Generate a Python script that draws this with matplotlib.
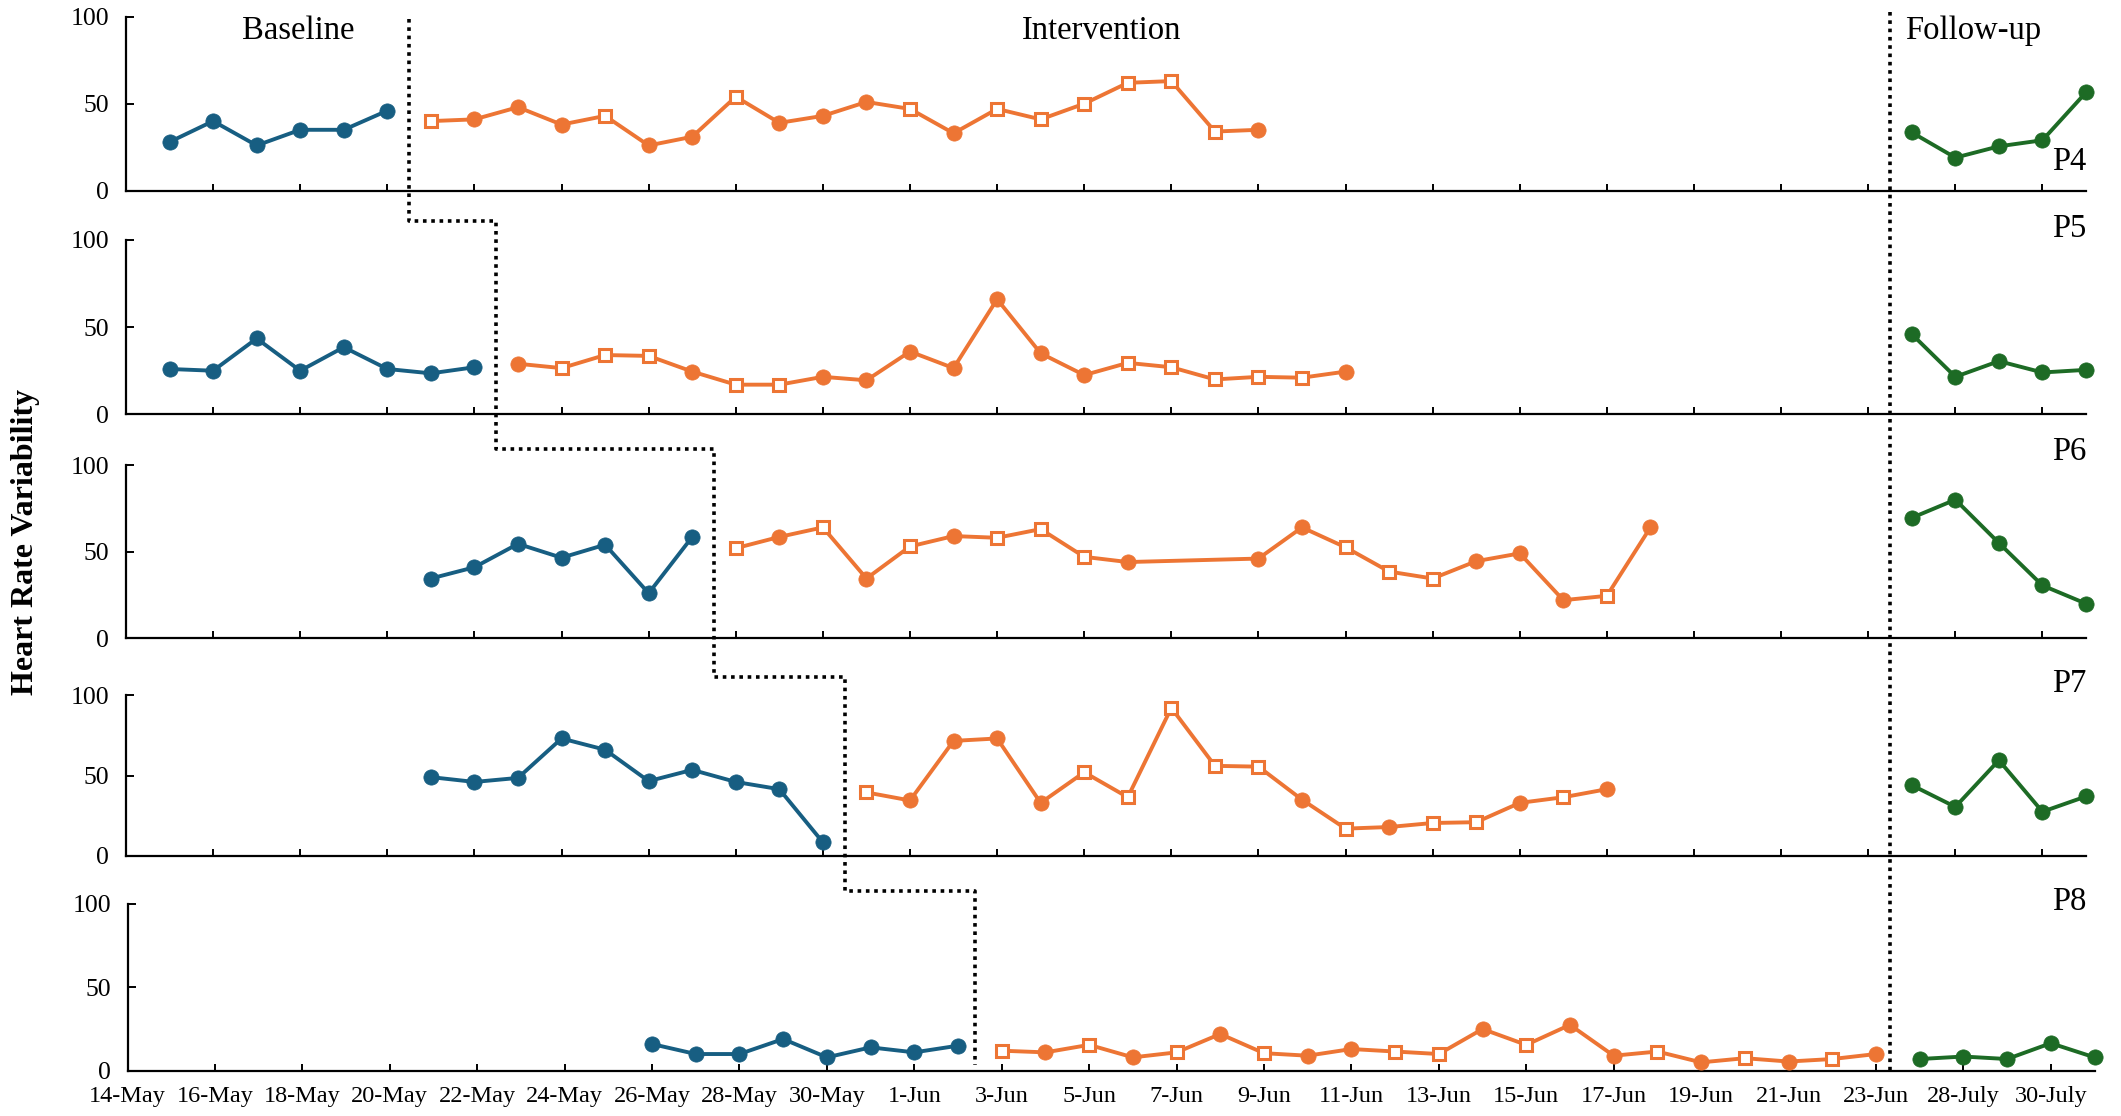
import numpy as np
import pandas as pd
import matplotlib
matplotlib.use("Agg")
import matplotlib.pyplot as plt
from matplotlib.lines import Line2D
from matplotlib.transforms import blended_transform_factory

plt.rcParams['font.family'] = ['Liberation Serif', 'DejaVu Serif']

# ---------------------------------------------------------------------------
# Session calendar: daily sessions 14 May - 23 June, follow-up 27-31 July
# ---------------------------------------------------------------------------
study_days = pd.date_range("2021-05-14", "2021-06-23", freq="D")
followup_days = pd.date_range("2021-07-27", "2021-07-31", freq="D")
date_labels = ([f"{d.day}-{d.strftime('%b')}" for d in study_days] +
               [f"{d.day}-{d.strftime('%B')}" for d in followup_days])

participants = ["P4", "P5", "P6", "P7", "P8"]

# Heart rate variability per participant and phase
# session type: 'c' = filled circle session, 's' = open square session, '-' = no session
p4_baseline_start = "15-May"
p4_baseline = [28, 40, 26, 35, 35, 46]
p4_intervention_start = "21-May"
p4_intervention = [40, 41, 48, 38, 43, 26, 31, 54, 39, 43, 51, 47, 33, 47, 41,
                   50, 62, 63, 34, 35]
p4_session_type = "scccsccscccscssssssc"
p4_followup = [33.5, 19, 25.5, 29, 56.5]

p5_baseline_start = "15-May"
p5_baseline = [26, 25, 43.5, 25, 38.5, 26, 23.5, 27]
p5_intervention_start = "23-May"
p5_intervention = [29, 26.5, 34, 33.5, 24.5, 17, 17, 21.5, 19.5, 36, 26.5, 66,
                   35, 22.5, 29.5, 27, 20, 21.5, 21, 24.5]
p5_session_type = "csssc" "ss" "ccccccc" "sssss" "c"
p5_followup = [46, 21.5, 30.5, 24, 25.5]

p6_baseline_start = "21-May"
p6_baseline = [34.5, 41, 54.5, 46.5, 54, 26, 58.5]
p6_intervention_start = "28-May"
p6_intervention = [52, 58.5, 64, 34.5, 53, 59, 58, 63, 47, 44, np.nan, np.nan,
                   46, 64, 52.5, 38.5, 34.5, 44.5, 49, 22, 24.5, 64]
p6_session_type = "scscscsssc--ccssscccsc"
p6_followup = [69.5, 80, 55, 30.5, 20]

p7_baseline_start = "21-May"
p7_baseline = [49, 46, 48.5, 73, 66, 46.5, 53.5, 46, 41.5, 8.5]
p7_intervention_start = "31-May"
p7_intervention = [39.5, 34.5, 71.5, 73, 33, 52, 36.5, 92, 56, 55.5, 35, 17,
                   18, 20.5, 21, 33, 36.5, 41.5]
p7_session_type = "scccc" "sssss" "cscsscsc"
p7_followup = [44, 30.5, 59.5, 27.5, 37]

p8_baseline_start = "26-May"
p8_baseline = [16, 10, 10, 19, 8, 14, 11, 15]
p8_intervention_start = "3-Jun"
p8_intervention = [12, 11, 15.5, 8, 11, 22, 10.5, 9, 13, 11.5, 10, 25, 15.5,
                   27.5, 9, 11.5, 5, 7.5, 5.5, 7, 10]
p8_session_type = "scscscsccsscsccscscsc"
p8_followup = [7, 8.5, 7, 16.5, 8]

followup_start = "27-July"

series = {
    "P4": (p4_baseline_start, p4_baseline, p4_intervention_start, p4_intervention, p4_session_type, p4_followup),
    "P5": (p5_baseline_start, p5_baseline, p5_intervention_start, p5_intervention, p5_session_type, p5_followup),
    "P6": (p6_baseline_start, p6_baseline, p6_intervention_start, p6_intervention, p6_session_type, p6_followup),
    "P7": (p7_baseline_start, p7_baseline, p7_intervention_start, p7_intervention, p7_session_type, p7_followup),
    "P8": (p8_baseline_start, p8_baseline, p8_intervention_start, p8_intervention, p8_session_type, p8_followup),
}

BLUE = "#175E82"
ORANGE = "#ED7534"
GREEN = "#1D6B25"

LW = 2.8
MS_CIRCLE = 11
MS_SQUARE = 9.2

# ---------------------------------------------------------------------------
# Figure layout
# ---------------------------------------------------------------------------
W, H = 2121, 1116
fig = plt.figure(figsize=(W / 100, H / 100), dpi=100)

# panel rectangles in pixels: (left, right, top, bottom)
panel_px = [
    (126, 2086, 16.7, 190.7),
    (126, 2086, 240.0, 414.3),
    (126, 2086, 465.0, 638.3),
    (126, 2086, 695.0, 856.0),
    (127.5, 2094.5, 904.0, 1070.7),
]

def px_rect(l, r, t, b):
    return [l / W, 1 - b / H, (r - l) / W, (b - t) / H]

n_pos = len(date_labels)
axes = []
for i, name in enumerate(participants):
    ax = fig.add_axes(px_rect(*panel_px[i]))
    axes.append(ax)
    b_start, b_vals, i_start, i_vals, i_type, f_vals = series[name]

    # baseline
    bx = np.arange(len(b_vals)) + date_labels.index(b_start)
    ax.plot(bx, b_vals, color=BLUE, lw=LW, marker="o", ms=MS_CIRCLE, mew=0.5,
            mec=BLUE, mfc=BLUE, clip_on=False, zorder=3)

    # intervention (missing sessions are skipped, line stays connected)
    ix = np.arange(len(i_vals)) + date_labels.index(i_start)
    iv = np.asarray(i_vals, dtype=float)
    types = np.array(list(i_type))
    ok = ~np.isnan(iv)
    ax.plot(ix[ok], iv[ok], color=ORANGE, lw=LW, clip_on=False, zorder=3)
    circ = types == "c"
    sq = types == "s"
    ax.plot(ix[circ], iv[circ], ls="none", marker="o", ms=MS_CIRCLE, mew=0.5,
            mec=ORANGE, mfc=ORANGE, clip_on=False, zorder=4)
    ax.plot(ix[sq], iv[sq], ls="none", marker="s", ms=MS_SQUARE, mew=2.2,
            mec=ORANGE, mfc="white", clip_on=False, zorder=4)

    # follow-up
    fx = np.arange(len(f_vals)) + date_labels.index(followup_start)
    ax.plot(fx, f_vals, color=GREEN, lw=LW, marker="o", ms=MS_CIRCLE, mew=0.5,
            mec=GREEN, mfc=GREEN, clip_on=False, zorder=3)

    ax.set_xlim(0, n_pos - 1)
    ax.set_ylim(0, 100)
    ax.set_yticks([0, 50, 100])
    ax.set_xticks(np.arange(0, n_pos - 1, 2))
    for s in ("top", "right"):
        ax.spines[s].set_visible(False)
    for s in ("left", "bottom"):
        ax.spines[s].set_linewidth(1.6)
        ax.spines[s].set_color("black")
    ax.tick_params(axis="y", direction="in", length=5.5, width=1.4,
                   labelsize=18.5, pad=12)
    ax.tick_params(axis="x", direction="in", length=5, width=1.4,
                   labelsize=17.5, pad=11)
    if i < len(participants) - 1:
        ax.set_xticklabels([])
    else:
        ax.set_xticklabels([date_labels[k] for k in range(0, n_pos - 1, 2)])
    ax.patch.set_visible(False)

# participant tags
tag_baseline_px = {"P4": 170, "P5": 237, "P6": 460, "P7": 692, "P8": 910}
for name in participants:
    fig.text(2086 / W, 1 - tag_baseline_px[name] / H, name, ha="right",
             va="baseline", fontsize=23.5)

# phase titles
top_ax = axes[0]
tr_top = blended_transform_factory(top_ax.transData, fig.transFigure)
for label, xc in (("Baseline", 3.95), ("Intervention", 22.4), ("Follow-up", 42.4)):
    fig.text(xc, 1 - 39 / H, label, transform=tr_top, ha="center",
             va="baseline", fontsize=23.5)

# y-axis title
fig.text(25.5 / W, 1 - 542 / H, "Heart Rate Variability", rotation=90,
         ha="center", va="center", fontsize=23, fontweight="bold")

# phase-change staircase between baseline and intervention
dot_style = dict(color="black", lw=2.6, ls=(0, (1, 1.3)), solid_capstyle="butt",
                 dash_capstyle="butt")
change_x = [date_labels.index(series[n][2]) - 0.5 for n in participants]
step_y_px = [19, 221, 449, 677, 891, 1065]
sx, sy = [], []
for k, xc in enumerate(change_x):
    sx += [xc, xc]
    sy += [1 - step_y_px[k] / H, 1 - step_y_px[k + 1] / H]
fig.add_artist(Line2D(sx, sy, transform=tr_top, **dot_style))

# follow-up boundary
fu_x = date_labels.index(followup_start) - 0.5
fig.add_artist(Line2D([fu_x, fu_x], [1 - 12 / H, 1 - 1072 / H], transform=tr_top,
                      **dot_style))

fig.savefig("out.png", dpi=100)
